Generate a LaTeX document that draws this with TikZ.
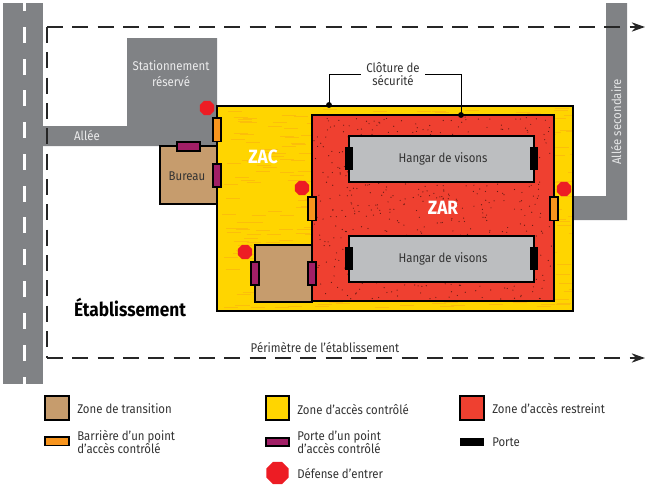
\documentclass[tikz,border=0pt]{standalone}
\usepackage{fontspec}
\setmainfont{Fira Sans}[FakeStretch=0.9]
\usetikzlibrary{arrows.meta,shapes.geometric}
\definecolor{route}{HTML}{808285}
\definecolor{transition}{HTML}{C69C6D}
\definecolor{zac}{HTML}{FFD500}
\definecolor{zar}{HTML}{EF4030}
\definecolor{hangar}{HTML}{BCBEC0}
\definecolor{barriere}{HTML}{F7941D}
\definecolor{portepa}{HTML}{A11F66}
\definecolor{arret}{HTML}{ED1C24}
\tikzset{plan/.style={x=0.75pt,y=-0.75pt}}
\tikzset{zone/.style={draw=black, line width=1.1pt}}
\tikzset{arretsign/.style={regular polygon, regular polygon sides=8, fill=arret, inner sep=0pt, minimum size=11.5pt}}
\tikzset{perimetre/.style={line width=1.05pt, draw=black!85, dash pattern=on 12pt off 7pt, -{Stealth[length=10pt,width=7pt]}}}
\tikzset{legende/.style={anchor=west, align=left, inner sep=0pt, font=\fontsize{9.5}{9.9}\selectfont, text=black!80}}
\tikzset{etiquette/.style={align=center, font=\fontsize{9.5}{12}\selectfont}}
\tikzset{grandtitre/.style={font=\bfseries\fontsize{14.4}{16}\selectfont}}
\begin{document}
\begin{tikzpicture}[plan]
	\useasboundingbox (0,0) rectangle (650,489);
	% routes
	\fill[route] (3,3) rectangle (43,384);
	\fill[route] (43,126) -- (127,126) -- (127,38) -- (217,38) -- (217,146) -- (43,146) -- cycle;
	\fill[route] (573,196) -- (606,196) -- (606,3) -- (627,3) -- (627,220) -- (573,220) -- cycle;
	\fill[white] (22.5,3) rectangle (25.5,11);
	\foreach \y in {27,59,90,122,154,186,217,249,281,313,345}
		\fill[white] (22.5,\y) rectangle (25.5,\y+16);
	\fill[white] (22.5,377) rectangle (25.5,384);
	% perimetre de l'etablissement
	\coordinate (ph) at (47,27);
	\coordinate (pb) at (47,358);
	\coordinate (phd) at (645,27);
	\coordinate (pbd) at (645,358);
	\draw[perimetre] (ph) -- (phd);
	\draw[perimetre, -] (ph) -- (pb);
	\draw[perimetre] (pb) -- (pbd);
	% les zones
	\fill[zac] (217,106) rectangle (573,311);
	\begin{scope}
		\clip (217,106) rectangle (573,311);
		\pgfmathsetseed{12}
		\foreach \i in {1,...,420}
			\draw[barriere!35!zac, line width=0.4pt] ({220+350*rnd},{108+200*rnd}) -- ++(14,0);
	\end{scope}
	\draw[zone] (217,106) rectangle (573,311);
	\fill[zar] (312,115) rectangle (554,301);
	\pgfmathsetseed{7}
	\foreach \i in {1,...,600}
		\fill[black!60!zar] ({314+238*rnd},{117+182*rnd}) circle (0.45pt);
	\draw[zone] (312,115) rectangle (554,301);
	\draw[zone, fill=transition] (160,146) rectangle (217,204); % bureau
	\draw[zone, fill=transition] (255,245) rectangle (312,302); % sas du bas
	% les hangars et leurs portes
	\foreach \y/\yp in {136/159,236/259}{
		\draw[zone, fill=hangar] (349,\y) rectangle (534,\y+46);
		\node[etiquette, text=black!80] at (443,\yp) {Hangar de visons};
		\fill[black] (345,\y+11) rectangle (353,\y+34);
		\fill[black] (530,\y+11) rectangle (538,\y+34);
	}
	% barrieres et portes des points d'acces
	\foreach \x/\y in {213/118,308/197,550/197}
		\draw[fill=barriere, line width=0.8pt] (\x,\y) rectangle (\x+8,\y+23.5);
	\foreach \x/\y in {213/164,251/262,308/262}
		\draw[fill=portepa, line width=0.8pt] (\x,\y) rectangle (\x+8,\y+23);
	\draw[fill=portepa, line width=0.8pt] (177,142) rectangle (200,151);
	% defense d'entrer
	\node[arretsign] (arreta) at (207,108) {};
	\node[arretsign] (arretb) at (302,188) {};
	\node[arretsign] (arretc) at (245,252) {};
	\node[arretsign] (arretd) at (564,189) {};
	% cloture
	\node[etiquette, text=black!80, inner sep=1pt, minimum width=48pt] (cloture) at (393,74) {Clôture de\\[-2pt]sécurité};
	\coordinate (cla) at (329,105);
	\coordinate (clb) at (461,115);
	\draw[line width=0.7pt] (cloture.west) -| (cla);
	\draw[line width=0.7pt] (cloture.east) -| (clb);
	\fill (cla) circle (2.2pt);
	\fill (clb) circle (2.2pt);
	% les textes du plan
	\node[etiquette, text=white!85!route] at (171,74) {Stationnement\\réservé};
	\node[etiquette, text=white!85!route] at (87,136) {Allée};
	\node[etiquette, text=white!80!route, rotate=90] at (616,122) {Allée secondaire};
	\node[etiquette, text=black!80] at (187,176) {Bureau};
	\node[grandtitre, text=white] at (263,157) {ZAC};
	\node[grandtitre, text=white] at (443,208) {ZAR};
	\node[grandtitre] at (130,307) {Établissement};
	\node[etiquette, text=black!80] at (325,347) {Périmètre de l’établissement};
	% legende
	\draw[zone, fill=transition] (45,396) rectangle (69,420);
	\draw[zone, fill=zac] (266,396) rectangle (289,420);
	\draw[zone, fill=zar] (460,396) rectangle (484,420);
	\draw[fill=barriere, line width=0.8pt] (45,437) rectangle (69,445.5);
	\draw[fill=portepa, line width=0.8pt] (266,438) rectangle (289,446);
	\fill[black] (460,438) rectangle (484,446);
	\node[arretsign, minimum size=18pt] at (277.5,473) {};
	\node[legende] at (77,409) {Zone de transition};
	\node[legende] at (77,442) {Barrière d’un point\\d’accès contrôlé};
	\node[legende] at (297,409) {Zone d’accès contrôlé};
	\node[legende] at (297,442) {Porte d’un point\\d’accès contrôlé};
	\node[legende] at (297,473) {Défense d’entrer};
	\node[legende] at (492,408) {Zone d’accès restreint};
	\node[legende] at (492,442) {Porte};
\end{tikzpicture}
\end{document}
